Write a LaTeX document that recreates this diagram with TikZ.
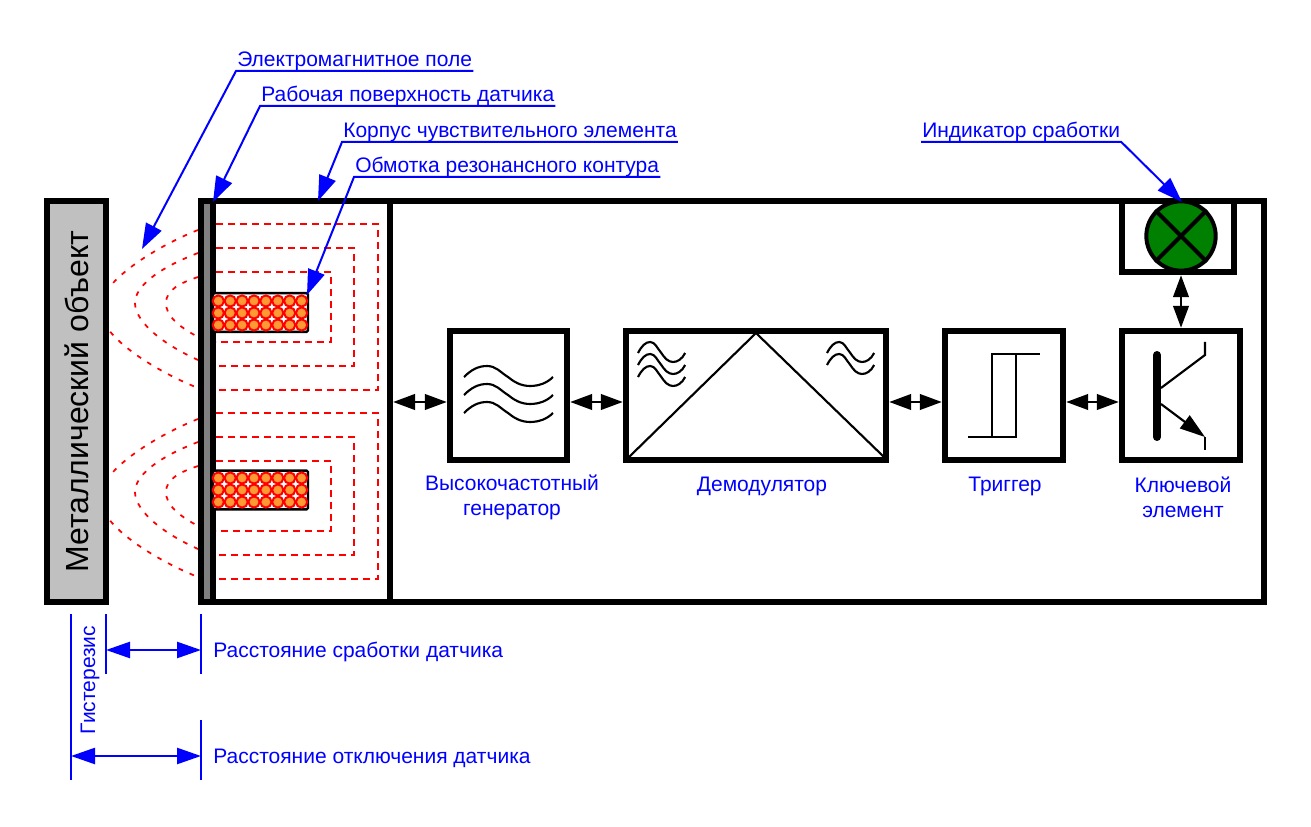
\documentclass[tikz,border=0pt]{standalone}
\usepackage{fontspec}
\setmainfont{Liberation Sans}
\usetikzlibrary{positioning, arrows.meta, shapes}
\definecolor{sblue}{HTML}{0000FF}
\definecolor{sred}{HTML}{FF0000}
\definecolor{sgreen}{HTML}{008000}
\definecolor{sorange}{HTML}{FF9933}
\definecolor{smetal}{HTML}{C0C0C0}
\definecolor{swall}{HTML}{808080}
\tikzset{
    blockbox/.style={draw=black, line width=4.3pt, fill=white, inner sep=0pt},
    twoway/.style={draw=black, line width=2.2pt, {Triangle[length=16.5pt,width=11.5pt]}-{Triangle[length=16.5pt,width=11.5pt]}},
    measure/.style={draw=sblue, line width=1.8pt, {Triangle[length=18pt,width=12pt]}-{Triangle[length=18pt,width=12pt]}},
    tick/.style={draw=sblue, line width=1.7pt},
    leader/.style={draw=sblue, line width=1.5pt, -{Triangle[length=19pt,width=13pt]}},
    callout/.style={anchor=south west, text=sblue, font=\fontsize{15.75}{18}\selectfont, inner xsep=0.75pt, inner ysep=0pt, text depth=3.2pt},
    caption/.style={text=sblue, font=\fontsize{15.75}{18.6}\selectfont, align=center, inner sep=0pt},
    fieldline/.style={draw=sred, line width=1.5pt, dash pattern=on 5.25pt off 3.75pt},
    fieldcurve/.style={draw=sred, line width=1.3pt, dash pattern=on 3.5pt off 5.5pt},
    thinline/.style={draw=black, line width=1.6pt},
    turn/.style={draw=sred, line width=1.5pt, fill=sorange}
}
\newcommand{\wavyline}[3]{% x, y, x scale
    \draw[thinline, shift={(#1,#2)}, xscale=#3] (0,0) .. controls (7,-7) and (14,-11) .. (23,-11)
        .. controls (32,-11) and (36,-5) .. (44,0) .. controls (50,5) and (57,9) .. (66,9)
        .. controls (75,9) and (83,6) .. (89,0);
}
\begin{document}
\begin{tikzpicture}[x=0.75pt, y=-0.75pt]
        \useasboundingbox (0,0) rectangle (1311,827);

        % field outside the housing
        \foreach \dy in {0,189}
        {
            \draw[fieldcurve, yshift=-\dy*0.75pt] (198,230) .. controls (160,245) and (100,280) .. (100,309) .. controls (100,338) and (160,373) .. (198,388);
            \draw[fieldcurve, yshift=-\dy*0.75pt] (198,253) .. controls (154,270) and (135,288) .. (135,303) .. controls (135,318) and (154,340) .. (198,360);
            \draw[fieldcurve, yshift=-\dy*0.75pt] (198,277) .. controls (180,283) and (166,290) .. (166,303) .. controls (166,316) and (178,326) .. (198,337);
        }

        % metal object
        \node[blockbox, fill=smetal, rotate=90, minimum width=301pt, minimum height=44.5pt, font=\fontsize{24}{30}\selectfont] (metal) at (76.5,401.5) {Металлический объект};

        % sensor housing
        \node[blockbox] (body) at (732.5,401.5) [minimum width=797.6pt, minimum height=301pt] {};
        \fill[swall] (204,204) rectangle (210,599);
        \draw[line width=4.3pt] (213,201) -- (213,602);
        \draw[line width=4.3pt] (390,201) -- (390,602);

        % field inside the housing
        \foreach \ya/\xb/\yb in {224/378/390, 248/354/366, 272/331/342, 413/378/579, 437/354/555, 461/331/531}
        {
            \draw[fieldline] (216,\ya) -- (\xb,\ya) -- (\xb,\yb) -- (216,\yb);
        }

        % resonant circuit winding
        \node[draw=black, line width=1.8pt, fill=white, rounded corners=1pt, minimum width=71.2pt, minimum height=29pt, inner sep=0pt] (coiltop) at (260.5,312.5) {};
        \node[draw=black, line width=1.8pt, fill=white, rounded corners=1pt, minimum width=71.2pt, minimum height=29pt, inner sep=0pt] (coilbot) at (260.5,490) {};
        \foreach \cy in {301,313,325,478,490,502}
        {
            \foreach \cx in {0,...,7}
            {
                \draw[turn] (218.3+\cx*11.9,\cy) circle[radius=4.2pt];
            }
        }

        % blocks
        \node[blockbox, minimum width=88.15pt, minimum height=97.15pt] (gen) at (508.5,395.5) {};
        \node[blockbox, minimum width=195.4pt, minimum height=97.15pt] (demod) at (756,395.5) {};
        \node[blockbox, minimum width=88.9pt, minimum height=97.15pt] (trig) at (1004,395.5) {};
        \node[blockbox, minimum width=88.9pt, minimum height=97.15pt] (key) at (1181,395.5) {};
        \node[blockbox, minimum width=84.4pt, minimum height=53.65pt] (ind) at (1178,236.5) {};
        \node[circle, draw=black, line width=3pt, fill=sgreen, minimum size=52pt, inner sep=0pt] (lamp) at (1181,236) {};
        \draw[line width=3pt] (lamp.north west) -- (lamp.south east);
        \draw[line width=3pt] (lamp.north east) -- (lamp.south west);

        % generator and demodulator glyphs
        \foreach \wy in {377,395,413}
        {
            \wavyline{464}{\wy}{1}
        }
        \foreach \wy in {353,365,377}
        {
            \wavyline{638}{\wy}{0.53}
        }
        \foreach \wy in {353,365}
        {
            \wavyline{827}{\wy}{0.53}
        }
        \draw[thinline] (demod.south west) ++(5,-5) -- (756,333) -- (885,458);

        % trigger glyph
        \draw[thinline] (968,437) -- (1016,437) -- (1016,354) -- (1040,354);
        \draw[thinline] (992,437) -- (992,354) -- (1016,354);

        % transistor glyph
        \draw[line width=6pt, line cap=round] (1157,355) -- (1157,437);
        \draw[thinline] (1161,388) -- (1205,355) -- (1205,342);
        \draw[thinline] (1205,437) -- (1205,450);
        \draw[thinline, -{Triangle[length=19pt,width=12pt]}] (1161,404) -- (1205,437);

        % links between the blocks
        \coordinate (wallpt) at (393,402);
        \draw[twoway] (wallpt) -- (wallpt -| gen.west);
        \draw[twoway] (wallpt -| gen.east) -- (wallpt -| demod.west);
        \draw[twoway] (wallpt -| demod.east) -- (wallpt -| trig.west);
        \draw[twoway] (wallpt -| trig.east) -- (wallpt -| key.west);
        \draw[twoway] (key.north) -- (key.north |- ind.south);

        % block captions
        \node[caption] (gencap) at (512,497) {Высокочастотный\\генератор};
        \node[caption] (demodcap) at (762,486.5) {Демодулятор};
        \node[caption] (trigcap) at (1005,486.5) {Триггер};
        \node[caption] (keycap) at (1183,497) {Ключевой\\элемент};

        % callouts
        \node[callout] (emfield) at (236,71) {Электромагнитное поле};
        \node[callout] (face) at (260,106) {Рабочая поверхность датчика};
        \node[callout] (shell) at (342,142) {Корпус чувствительного элемента\ };
        \node[callout] (winding) at (354,177) {Обмотка резонансного контура};
        \node[callout] (lampcap) at (921,142) {Индикатор сработки};
        \coordinate (emtip) at (142,249);
        \coordinate (facetip) at (213,202);
        \coordinate (shelltip) at (318,201);
        \coordinate (windtip) at (307,295);
        \coordinate (lamptip) at (1182,202);
        \draw[leader] (emfield.south east) -- (emfield.south west) -- (emtip);
        \draw[leader] (face.south east) -- (face.south west) -- (facetip);
        \draw[leader] (shell.south east) -- (shell.south west) -- (shelltip);
        \draw[leader] (winding.south east) -- (winding.south west) -- (windtip);
        \draw[leader] (lampcap.south west) -- (lampcap.south east) -- (lamptip);

        % distances
        \draw[tick] (71,614) -- (71,780);
        \draw[tick] (106,614) -- (106,674);
        \draw[tick] (201,614) -- (201,674);
        \draw[tick] (201,720) -- (201,780);
        \coordinate (onl) at (106,650);
        \coordinate (onr) at (201,650);
        \coordinate (offl) at (71,756);
        \coordinate (offr) at (201,756);
        \draw[measure] (onl) -- (onr);
        \draw[measure] (offl) -- (offr);
        \node[caption, anchor=west] (ondist) at (213,652) {Расстояние сработки датчика};
        \node[caption, anchor=west] (offdist) at (213,758) {Расстояние отключения датчика};
        \node[caption, rotate=90] (hyst) at (90,680) {Гистерезис};
    \end{tikzpicture}
\end{document}
